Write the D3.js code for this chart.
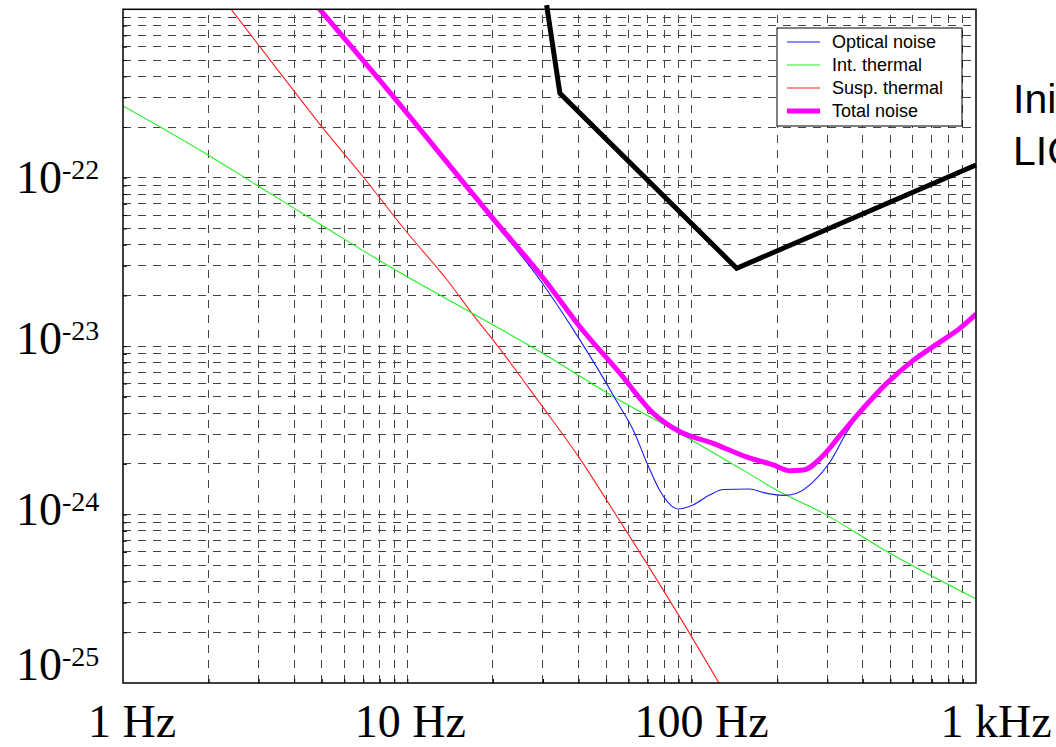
<!DOCTYPE html>
<html>
<head>
<meta charset="utf-8">
<script src="https://cdn.jsdelivr.net/npm/d3@7"></script>
<style>
  body { margin: 0; background: #fff; overflow: hidden; }
  svg { display: block; }
</style>
</head>
<body>
<div id="chart"></div>
<script>
// values (frequency in Hz, strain per rtHz)
const opticalFreq = [4.8, 8.93, 15.5, 18, 29.3, 38.4, 48.9, 54.6, 62.4, 69.5, 77.4, 89.7, 101, 116, 129, 160, 179, 210, 234, 268, 307, 352, 391, 485, 603, 748, 879, 1000]
const opticalNoise = [1.05e-21, 3.03e-22, 9.68e-23, 6.89e-23, 2.47e-23, 1.25e-23, 6.46e-24, 4.68e-24, 3.16e-24, 2.04e-24, 1.38e-24, 1.08e-24, 1.14e-24, 1.31e-24, 1.41e-24, 1.42e-24, 1.35e-24, 1.3e-24, 1.34e-24, 1.57e-24, 2.06e-24, 3.1e-24, 3.98e-24, 5.96e-24, 8.18e-24, 1.05e-23, 1.26e-23, 1.53e-23]

const intFreq = [1, 1.97, 2.95, 5.2, 8.69, 18, 29.3, 53.1, 91, 148, 205, 290, 472, 1000]
const intThermal = [2.67e-22, 1.38e-22, 9.06e-23, 5.01e-23, 2.96e-23, 1.48e-23, 9.27e-24, 5.01e-24, 3.03e-24, 1.88e-24, 1.36e-24, 1.02e-24, 6.21e-25, 3.16e-25]

const suspFreq = [2.4, 3.56, 5, 7, 9.8, 13.8, 18, 20, 29.3, 40.5, 51, 69.5, 90, 125]
const suspThermal = [1.0e-21, 4.21e-22, 2.01e-22, 1.01e-22, 4.91e-23, 2.47e-23, 1.36e-23, 1.09e-23, 4.57e-24, 2.14e-24, 1.17e-24, 5.13e-25, 2.53e-25, 9.95e-26]

const totalFreq = [4.8, 8.93, 15.5, 20, 30.1, 40.5, 56, 73.3, 91, 119, 156, 194, 222, 247, 290, 333, 391, 485, 603, 748, 879, 1000]
const totalNoise = [1.05e-21, 3.03e-22, 9.68e-23, 5.73e-23, 2.53e-23, 1.3e-23, 6.89e-24, 3.99e-24, 3.1e-24, 2.65e-24, 2.2e-24, 1.97e-24, 1.82e-24, 1.84e-24, 2.24e-24, 2.96e-24, 4.07e-24, 6.01e-24, 8.26e-24, 1.06e-23, 1.28e-23, 1.55e-23]

const reqFreq = [30.9, 34.4, 144, 1000]
const requirement = [1.06e-21, 3.17e-22, 2.9e-23, 1.19e-22]

const xTicks = [1, 10, 100, 1000]
const xTickLabels = ['1 Hz', '10 Hz', '100 Hz', '1 kHz']
const yTicks = [1e-22, 1e-23, 1e-24, 1e-25]
const yTickExps = ['-22', '-23', '-24', '-25']

const seriesNames = ['Optical noise', 'Int. thermal', 'Susp. thermal', 'Total noise']

const width = 1056
const height = 747
const plot = { left: 123, right: 976, top: 9.3, bottom: 683 }

// hand placed label boxes in the original slide
const xLabelNudge = [9, 3, 10, 20]
const yLabelNudge = [15, 8, 10, -3]

const svg = d3
  .select('#chart')
  .append('svg')
  .attr('width', width)
  .attr('height', height)

const xPositionScale = d3
  .scaleLog()
  .domain([1, 1000])
  .range([plot.left, plot.right])

const yPositionScale = d3
  .scaleLog()
  .domain([1e-25, 1e-21])
  .range([plot.bottom, plot.top])

// minor + major grid values inside the frame
const xGrid = []
for (let d = 1; d < 1000; d *= 10) {
  for (let m = 1; m < 10; m++) {
    if (d * m > 1) xGrid.push(d * m)
  }
}
const yGrid = []
for (let d = 1e-25; d < 1e-21 * 0.99; d *= 10) {
  for (let m = 1; m < 10; m++) {
    if (m > 1 || d > 1e-25) yGrid.push(d * m)
  }
}

svg
  .append('defs')
  .append('clipPath')
  .attr('id', 'plot-clip')
  .append('rect')
  .attr('x', plot.left)
  .attr('y', plot.top)
  .attr('width', plot.right - plot.left)
  .attr('height', plot.bottom - plot.top)

const grid = svg.append('g').attr('class', 'grid').attr('shape-rendering', 'crispEdges')

grid
  .selectAll('.hgrid')
  .data(yGrid)
  .enter()
  .append('line')
  .attr('x1', plot.left)
  .attr('x2', plot.right)
  .attr('y1', d => yPositionScale(d))
  .attr('y2', d => yPositionScale(d))
  .attr('stroke', '#444')
  .attr('stroke-width', 1)
  .attr('stroke-dasharray', '8,7')

grid
  .selectAll('.vgrid')
  .data(xGrid)
  .enter()
  .append('line')
  .attr('x1', d => xPositionScale(d))
  .attr('x2', d => xPositionScale(d))
  .attr('y1', plot.bottom)
  .attr('y2', plot.top)
  .attr('stroke', '#444')
  .attr('stroke-width', 1)
  .attr('stroke-dasharray', '8,7')

// small inside ticks
const yAxis = d3.axisLeft(yPositionScale).tickValues(yGrid).tickSize(-4).tickFormat('')
svg
  .append('g')
  .attr('class', 'axis y-axis')
  .attr('transform', 'translate(' + plot.left + ',0)')
  .call(yAxis)
const xAxis = d3.axisBottom(xPositionScale).tickValues(xGrid).tickSize(-4).tickFormat('')
svg
  .append('g')
  .attr('class', 'axis x-axis')
  .attr('transform', 'translate(0,' + plot.bottom + ')')
  .call(xAxis)
svg.selectAll('.axis path').remove()
svg.selectAll('.axis line').attr('stroke', '#000')

const line = d3
  .line()
  .x(d => xPositionScale(d[0]))
  .y(d => yPositionScale(d[1]))
  .curve(d3.curveMonotoneX)

const curves = svg.append('g').attr('clip-path', 'url(#plot-clip)')

function addCurve(freqs, values, color, w) {
  return curves
    .append('path')
    .datum(d3.zip(freqs, values))
    .attr('d', line)
    .attr('fill', 'none')
    .attr('stroke', color)
    .attr('stroke-width', w)
}

addCurve(suspFreq, suspThermal, '#ff2020', 1.1)
addCurve(intFreq, intThermal, '#22ee22', 1.1)
addCurve(opticalFreq, opticalNoise, '#1a1aff', 1.1)
addCurve(totalFreq, totalNoise, '#ff00ff', 5)

svg
  .append('path')
  .datum(d3.zip(reqFreq, requirement))
  .attr(
    'd',
    d3
      .line()
      .x(d => xPositionScale(d[0]))
      .y(d => yPositionScale(d[1]))
  )
  .attr('fill', 'none')
  .attr('stroke', '#000')
  .attr('stroke-width', 5)

// frame
svg
  .append('rect')
  .attr('x', plot.left)
  .attr('y', plot.top)
  .attr('width', plot.right - plot.left)
  .attr('height', plot.bottom - plot.top)
  .attr('fill', 'none')
  .attr('stroke', '#000')
  .attr('stroke-width', 1.5)

// axis labels
svg
  .selectAll('.x-label')
  .data(xTicks)
  .enter()
  .append('text')
  .attr('class', 'x-label')
  .attr('x', (d, i) => xPositionScale(d) + xLabelNudge[i])
  .attr('y', 737)
  .attr('text-anchor', 'middle')
  .style('font-family', '"Liberation Serif", "Times New Roman", serif')
  .style('font-size', '46px')
  .text((d, i) => xTickLabels[i])

const yLabels = svg
  .selectAll('.y-label')
  .data(yTicks)
  .enter()
  .append('text')
  .attr('class', 'y-label')
  .attr('x', 16)
  .attr('y', (d, i) => yPositionScale(d) + yLabelNudge[i])
  .style('font-family', '"Liberation Serif", "Times New Roman", serif')
  .style('font-size', '46px')
yLabels.append('tspan').text('10')
yLabels
  .append('tspan')
  .attr('dy', -14)
  .style('font-size', '28px')
  .text((d, i) => yTickExps[i])

// legend
const legendColors = ['#1a1aff', '#22ee22', '#ff2020', '#ff00ff']
const legendWidths = [1.2, 1.2, 1.2, 5]
const legend = svg.append('g').attr('class', 'legend')
legend
  .append('rect')
  .attr('x', 777)
  .attr('y', 28)
  .attr('width', 185)
  .attr('height', 98)
  .attr('fill', '#fff')
  .attr('stroke', '#000')
  .attr('stroke-width', 1)
const rows = legend
  .selectAll('.row')
  .data(seriesNames)
  .enter()
  .append('g')
  .attr('transform', (d, i) => 'translate(0,' + (42 + i * 23) + ')')
rows
  .append('line')
  .attr('x1', 787)
  .attr('x2', 820)
  .attr('stroke', (d, i) => legendColors[i])
  .attr('stroke-width', (d, i) => legendWidths[i])
rows
  .append('text')
  .attr('x', 832)
  .attr('dy', '0.35em')
  .style('font-family', '"Liberation Sans", Arial, sans-serif')
  .style('font-size', '18px')
  .text(d => d)

// side note, runs off the right edge as in the original slide
svg
  .append('text')
  .attr('x', 1013)
  .attr('y', 113)
  .style('font-family', '"Liberation Sans", Arial, sans-serif')
  .style('font-size', '41px')
  .text('Initial')
svg
  .append('text')
  .attr('x', 1013)
  .attr('y', 165)
  .style('font-family', '"Liberation Sans", Arial, sans-serif')
  .style('font-size', '41px')
  .text('LIGO')
</script>
</body>
</html>
